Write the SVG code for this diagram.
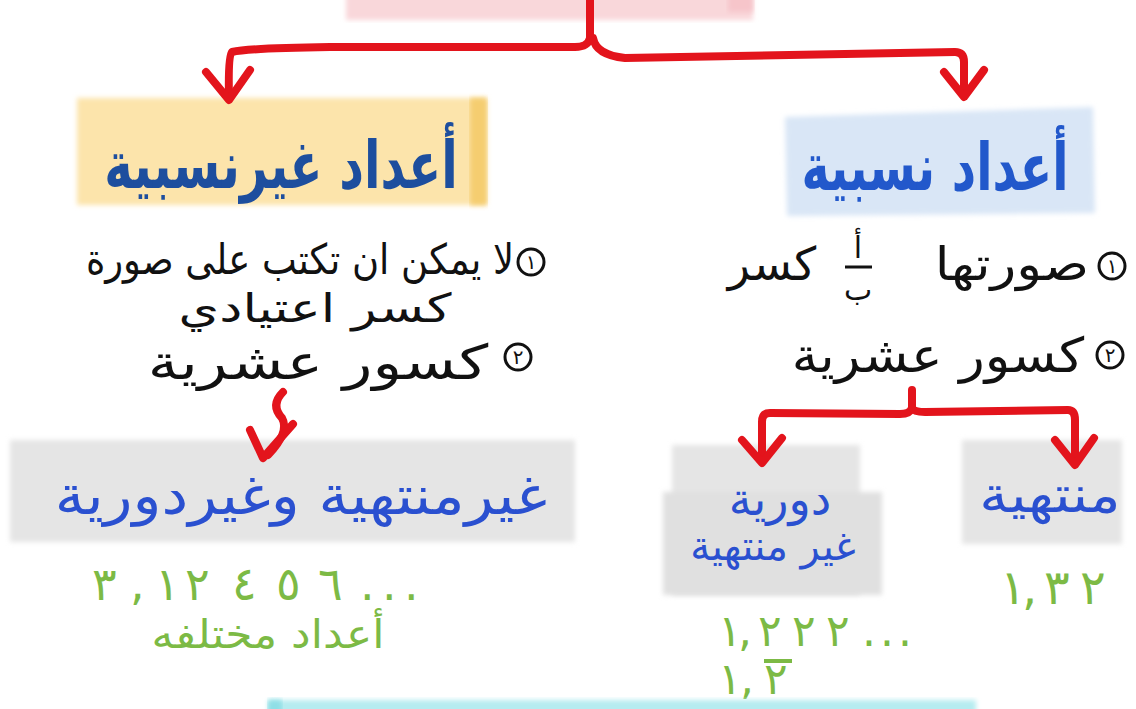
<svg xmlns="http://www.w3.org/2000/svg" width="1136" height="709" viewBox="0 0 1136 709">
<defs>
<filter id="soft" x="-5%" y="-10%" width="110%" height="120%"><feGaussianBlur stdDeviation="2.5"/></filter>
<style>
.red{fill:none;stroke:#e3141c;stroke-width:8;stroke-linecap:round;stroke-linejoin:round}
.ttl{font-family:"DejaVu Sans",sans-serif;font-weight:bold;text-anchor:middle}
.blk{font-family:"DejaVu Sans",sans-serif;fill:#111;text-anchor:middle}
.blu{font-family:"DejaVu Sans",sans-serif;fill:#2a50d0;text-anchor:middle}
.grn{font-family:"DejaVu Sans",sans-serif;fill:#7cba45}
.num{text-anchor:start}
.circ{fill:none;stroke:#111;stroke-width:3}
.gray{fill:#e5e5e5}
</style>
</defs>
<rect width="1136" height="709" fill="#ffffff"/>

<g id="root">
<rect x="346" y="-10" width="407" height="30" fill="#f9d7da" filter="url(#soft)"/>
<rect x="728" y="-10" width="25" height="22" fill="#f6c5ca" filter="url(#soft)"/>
</g>

<g id="irrational">
<rect x="77" y="98" width="410" height="107" fill="#fce4ab" filter="url(#soft)"/>
<rect x="470" y="98" width="17" height="107" fill="#f5cd70" filter="url(#soft)"/>
<text class="ttl" transform="translate(281,188) scale(0.73,1)" font-size="66" fill="#1d4e9e" direction="rtl">أعداد غيرنسبية</text>
</g>

<g id="rational">
<polygon points="785,117 1093,107 1095,213 787,216" fill="#d9e6f6" filter="url(#soft)"/>
<text class="ttl" transform="translate(935,190) scale(0.72,1)" font-size="66" fill="#2258cb" direction="rtl">أعداد نسبية</text>
</g>

<g id="irrational-props">
<circle class="circ" cx="531" cy="262" r="13"/>
<text class="blk" x="531" y="269" font-size="20">١</text>
<text class="blk" transform="translate(300,274) scale(0.88,1)" font-size="42" direction="rtl">لا يمكن ان تكتب على صورة</text>
<text class="blk" transform="translate(315,322) scale(1.3,1)" font-size="40" direction="rtl">كسر اعتيادي</text>
<circle class="circ" cx="518" cy="357" r="13"/>
<text class="blk" x="518" y="364" font-size="20">٢</text>
<text class="blk" transform="translate(318,379) scale(1.28,1)" font-size="48" direction="rtl">كسور عشرية</text>
</g>

<g id="rational-props">
<circle class="circ" cx="1112" cy="266" r="13"/>
<text class="blk" x="1112" y="273" font-size="20">١</text>
<text class="blk" transform="translate(1012,280) scale(1.16,1)" font-size="46" direction="rtl">صورتها</text>
<text class="blk" x="858" y="258" font-size="30">أ</text>
<line x1="845" y1="267" x2="872" y2="267" stroke="#111" stroke-width="3"/>
<text class="blk" x="858" y="300" font-size="30">ب</text>
<text class="blk" x="772" y="280" font-size="46" direction="rtl">كسر</text>
<circle class="circ" cx="1110" cy="355" r="13"/>
<text class="blk" x="1110" y="362" font-size="20">٢</text>
<text class="blk" transform="translate(938,372) scale(1.1,1)" font-size="48" direction="rtl">كسور عشرية</text>
</g>

<g id="nonrepeating">
<rect x="10" y="440" width="565" height="102" class="gray" filter="url(#soft)"/>
<text class="blu" transform="translate(301,514) scale(1.11,1)" font-size="54" direction="rtl">غيرمنتهية وغيردورية</text>
<text class="grn num" x="92 130 155 185 232 276 318 360 382 404" y="600" font-size="46" direction="ltr">٣,١٢٤٥٦...</text>
<text class="grn" transform="translate(268,648) scale(1.1,1)" font-size="40" direction="rtl" text-anchor="middle">أعداد مختلفه</text>
</g>

<g id="repeating">
<rect x="672" y="445" width="188" height="150" class="gray" filter="url(#soft)"/>
<rect x="663" y="492" width="219" height="103" fill="#e0e0e0" filter="url(#soft)"/>
<text class="blu" x="780" y="515" font-size="46" direction="rtl">دورية</text>
<text class="blu" x="773" y="560" font-size="40" direction="rtl">غير منتهية</text>
<text class="grn num" x="718 738 758 792 826 862 880 898" y="646" font-size="44" direction="ltr">١,٢٢٢...</text>
<text class="grn num" x="718 740 764" y="694" font-size="44" direction="ltr">١,٢</text>
<line x1="764" y1="661" x2="792" y2="661" stroke="#7cba45" stroke-width="4"/>
</g>

<g id="terminating">
<rect x="962" y="440" width="160" height="104" class="gray" filter="url(#soft)"/>
<text class="blu" transform="translate(1050,512) scale(1.16,1)" font-size="50" direction="rtl">منتهية</text>
<text class="grn num" x="1000 1022 1044 1080" y="604" font-size="48" direction="ltr">١,٣٢</text>
</g>

<g id="bottom">
<rect x="268" y="700" width="708" height="30" fill="#b6ecf0" filter="url(#soft)"/>
<rect x="268" y="700" width="14" height="30" fill="#8fdfe6" filter="url(#soft)"/>
</g>

<g id="connectors">
<path class="red" d="M590,0 L590,38 Q588,47 575,47 L330,47 Q250,48 232,52 Q228,56 229,98"/>
<path class="red" d="M206,72 L229,100 L250,70"/>
<path class="red" d="M593,38 Q596,55 625,58 L955,52 Q964,52 964,62 L964,94"/>
<path class="red" d="M944,72 L964,97 L984,70"/>
<path class="red" d="M912,390 L912,408 Q910,414 900,414 L770,413 Q762,413 762,422 L762,460"/>
<path class="red" d="M742,440 L762,463 L782,438"/>
<path class="red" d="M912,408 Q914,412 925,412 L1068,410 Q1075,410 1075,420 L1075,462"/>
<path class="red" d="M1055,440 L1075,465 L1094,438"/>
<path class="red" d="M283,392 Q270,405 282,418 Q290,432 268,455"/>
<path class="red" d="M250,430 L263,458 L293,424"/>
</g>
</svg>
